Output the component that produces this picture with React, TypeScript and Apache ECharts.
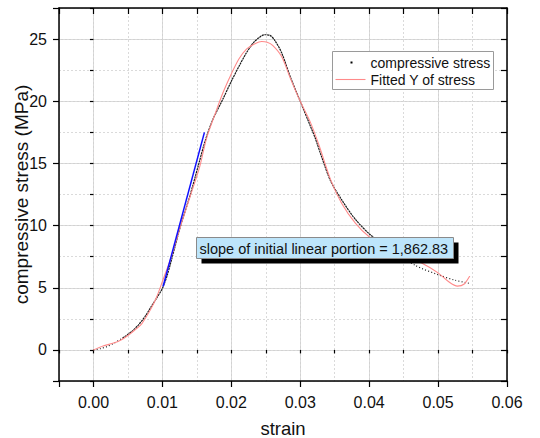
import React, { useEffect, useRef } from "react";
import * as echarts from "echarts";

const blackStrain = [0, 0.001, 0.002, 0.003, 0.0042, 0.0055, 0.0065, 0.0075, 0.0084, 0.0092, 0.01, 0.0107, 0.0113, 0.0126, 0.014, 0.0153, 0.0162, 0.0173, 0.0188, 0.02, 0.0212, 0.0222, 0.0232, 0.024, 0.0248, 0.0256, 0.0263, 0.0273, 0.0286, 0.03, 0.0314, 0.0322, 0.033, 0.0344, 0.0361, 0.038, 0.0403, 0.043, 0.0467, 0.05, 0.0525, 0.0546];
const blackStress = [0, 0.1, 0.28, 0.55, 0.94, 1.45, 2.0, 2.7, 3.5, 4.2, 4.95, 6.0, 7.2, 9.9, 12.4, 15.0, 16.8, 18.5, 20.2, 21.6, 22.9, 23.9, 24.7, 25.1, 25.35, 25.3, 24.9, 23.9, 21.9, 20.0, 18.1, 17.0, 15.7, 13.6, 12.0, 10.5, 9.2, 8.2, 6.8, 6.05, 5.6, 5.35];

const fitStrain = [0, 0.0014, 0.0028, 0.004, 0.0051, 0.006, 0.007, 0.0084, 0.0092, 0.0099, 0.0113, 0.0126, 0.014, 0.0154, 0.0164, 0.0176, 0.0188, 0.02, 0.0211, 0.0222, 0.0235, 0.0244, 0.0252, 0.026, 0.0273, 0.0286, 0.03, 0.0314, 0.0327, 0.0344, 0.036, 0.038, 0.04, 0.043, 0.0455, 0.0476, 0.05, 0.0515, 0.0528, 0.0538, 0.0546];
const fitStress = [0, 0.32, 0.53, 0.8, 1.2, 1.6, 2.1, 3.37, 4.3, 5.35, 7.5, 9.9, 12.3, 14.7, 17.0, 18.9, 20.7, 22.2, 23.4, 24.2, 24.65, 24.8, 24.75, 24.5, 23.6, 21.8, 20.0, 18.4, 16.5, 13.7, 11.8, 10.2, 9.1, 8.1, 7.4, 7.0, 6.2, 5.5, 5.13, 5.3, 5.95];

const slopeStrain = [0.0101, 0.0161];
const slopeStress = [5.1, 17.5];

const xMin = -0.005, xMax = 0.06, xMajor = 0.01, xMinor = 0.005;
const yMin = -2.5, yMax = 27.5, yMajor = 5, yMinor = 2.5;

const legendNames = ["compressive stress", "Fitted Y of stress"];
const annotationText = "slope of initial linear portion = 1,862.83";

const FONT = "'Liberation Sans', Arial, sans-serif";

function isMult(v: number, m: number) {
  const r = v / m;
  return Math.abs(r - Math.round(r)) < 1e-6;
}

export default function App() {
  const ref = useRef<HTMLDivElement>(null);
  useEffect(() => {
    if (!ref.current) return;
    const chart = echarts.init(ref.current, null, { renderer: "svg" });
    const zip = (a: number[], b: number[]) => a.map((v, i) => [v, b[i]]);
    const black = zip(blackStrain, blackStress);
    const blackHead = black.filter((p) => p[0] <= 0.0042);
    const blackMid = black.filter((p) => p[0] >= 0.0042 && p[0] <= 0.043);
    const blackTail = black.filter((p) => p[0] >= 0.043);
    const baseX = { type: "value", min: xMin, max: xMax, gridIndex: 0 };
    const baseY = { type: "value", min: yMin, max: yMax, gridIndex: 0 };
    const gridL = 59, gridT = 8, gridR = 507, gridB = 381;
    const blackLine = (name: string, data: number[][], dash: number[]) => ({
      name,
      type: "line",
      xAxisIndex: 0,
      yAxisIndex: 0,
      data,
      showSymbol: false,
      smooth: 0.3,
      lineStyle: { color: "#1a1a1a", width: 1.2, type: dash },
      z: 3,
    });
    const Z = 100;
    chart.setOption({
      animation: false,
      backgroundColor: "#ffffff",
      grid: {
        left: gridL,
        top: gridT,
        right: 540 - gridR,
        bottom: 438 - gridB,
        containLabel: false,
        outerBoundsMode: "none",
      },
      xAxis: [
        {
          ...baseX,
          position: "bottom",
          minInterval: xMajor,
          maxInterval: xMajor,
          name: "strain",
          nameLocation: "middle",
          nameGap: 38,
          nameMoveOverlap: false,
          nameTextStyle: { fontSize: 18.5, color: "#111", fontFamily: FONT },
          axisLine: { show: true, onZero: false, lineStyle: { color: "#000", width: 1.5 } },
          axisTick: { show: true, inside: false, length: 6, lineStyle: { color: "#000", width: 1.2 } },
          axisLabel: {
            show: true,
            margin: 13,
            fontSize: 16,
            color: "#111",
            fontFamily: FONT,
            formatter: (v: number) => (v >= 0 && isMult(v, xMajor) ? v.toFixed(2) : ""),
          },
          splitLine: { show: true, lineStyle: { color: "#d2d2d2", width: 1 } },
        },
        {
          ...baseX,
          position: "bottom",
          interval: xMinor,
          axisLine: { show: false },
          axisTick: { show: true, inside: false, length: 3.5, lineStyle: { color: "#000", width: 1.2 } },
          axisLabel: { show: false },
          splitLine: { show: true, lineStyle: { color: "#dadada", width: 1, type: [2, 2] } },
        },
        {
          ...baseX,
          position: "top",
          interval: xMinor,
          axisLine: { show: true, onZero: false, lineStyle: { color: "#000", width: 1.5 } },
          axisTick: { show: true, inside: true, length: 6, lineStyle: { color: "#000", width: 1.2 } },
          axisLabel: { show: false },
          splitLine: { show: false },
        },
      ],
      yAxis: [
        {
          ...baseY,
          position: "left",
          minInterval: yMajor,
          maxInterval: yMajor,
          name: "compressive stress (MPa)",
          nameLocation: "middle",
          nameGap: 28,
          nameMoveOverlap: false,
          nameTextStyle: { fontSize: 19, color: "#111", fontFamily: FONT },
          axisLine: { show: true, onZero: false, lineStyle: { color: "#000", width: 1.5 } },
          axisTick: { show: true, inside: false, length: 6, lineStyle: { color: "#000", width: 1.2 } },
          axisLabel: {
            show: true,
            margin: 12,
            fontSize: 16,
            color: "#111",
            fontFamily: FONT,
            formatter: (v: number) => (isMult(v, yMajor) ? String(Math.round(v)) : ""),
          },
          splitLine: { show: true, lineStyle: { color: "#d2d2d2", width: 1 } },
        },
        {
          ...baseY,
          position: "left",
          interval: yMinor,
          axisLine: { show: false },
          axisTick: { show: true, inside: false, length: 3.5, lineStyle: { color: "#000", width: 1.2 } },
          axisLabel: { show: false },
          splitLine: { show: true, lineStyle: { color: "#dadada", width: 1, type: [2, 2] } },
        },
        {
          ...baseY,
          position: "right",
          interval: yMinor,
          axisLine: { show: true, onZero: false, lineStyle: { color: "#000", width: 1.5 } },
          axisTick: { show: true, inside: true, length: 6, lineStyle: { color: "#000", width: 1.2 } },
          axisLabel: { show: false },
          splitLine: { show: false },
        },
      ],
      series: [
        blackLine(legendNames[0], blackMid, [2.2, 0.6]),
        blackLine(legendNames[0] + " (start)", blackHead, [1, 2.2]),
        blackLine(legendNames[0] + " (end)", blackTail, [1, 2.2]),
        {
          name: legendNames[1],
          type: "line",
          xAxisIndex: 0,
          yAxisIndex: 0,
          data: zip(fitStrain, fitStress),
          showSymbol: false,
          smooth: 0.3,
          lineStyle: { color: "#ff8a8a", width: 1.1 },
          z: 4,
        },
        {
          name: "slope",
          type: "line",
          xAxisIndex: 0,
          yAxisIndex: 0,
          data: zip(slopeStrain, slopeStress),
          showSymbol: false,
          lineStyle: { color: "#1010ff", width: 1.5 },
          z: 5,
        },
      ],
      graphic: [
        {
          type: "group",
          left: 332,
          top: 51,
          z: Z,
          children: [
            { type: "rect", z: Z, shape: { x: 0, y: 0, width: 161, height: 38 }, style: { fill: "#fff", stroke: "#9a9a9a", lineWidth: 1 } },
            { type: "rect", z: Z + 1, shape: { x: 18, y: 10, width: 2, height: 2 }, style: { fill: "#000" } },
            { type: "text", z: Z + 1, x: 38, y: 11, style: { text: legendNames[0], fontSize: 14, fontFamily: FONT, fill: "#111", verticalAlign: "middle", align: "left" } },
            { type: "line", z: Z + 1, shape: { x1: 3, y1: 28, x2: 33, y2: 28 }, style: { stroke: "#ff8a8a", lineWidth: 1.1 } },
            { type: "text", z: Z + 1, x: 38, y: 28, style: { text: legendNames[1], fontSize: 14, fontFamily: FONT, fill: "#111", verticalAlign: "middle", align: "left" } },
          ],
        },
        {
          type: "group",
          left: 196,
          top: 237,
          z: Z,
          children: [
            { type: "rect", z: Z, shape: { x: 5, y: 5, width: 257, height: 21 }, style: { fill: "#000" } },
            { type: "rect", z: Z + 1, shape: { x: 0, y: 0, width: 257, height: 21 }, style: { fill: "#bde5fb", stroke: "#8a8a8a", lineWidth: 1 } },
            { type: "text", z: Z + 2, x: 3, y: 11, style: { text: annotationText, fontSize: 14.5, fontFamily: FONT, fill: "#111", verticalAlign: "middle", align: "left" } },
          ],
        },
      ],
    });
    return () => chart.dispose();
  }, []);
  return <div ref={ref} style={{ position: "fixed", left: 0, top: 0, width: 540, height: 438 }} />;
}
